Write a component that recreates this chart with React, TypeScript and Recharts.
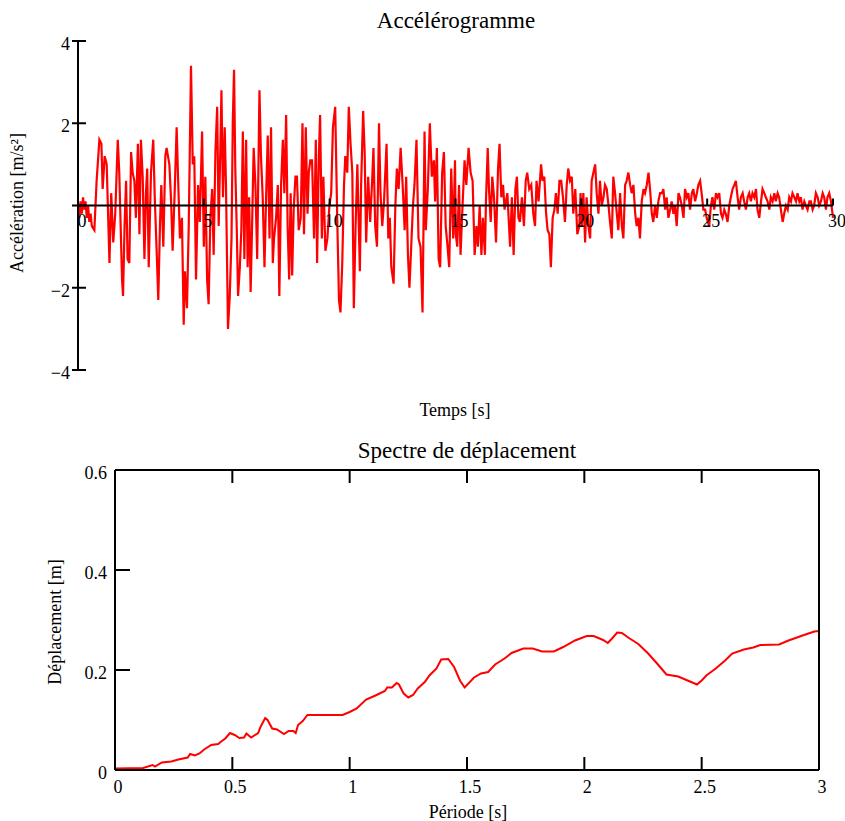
import React from 'react'
import { LineChart, Line, XAxis, YAxis, ReferenceLine } from 'recharts'

const FONT = '"Liberation Serif", "Times New Roman", serif'
const RED = '#ff0000'

// accélérogramme, [temps (s), accélération (m/s²)]
const accel0to5: [number, number][] = [
	[0, -0.1], [0.05, -0.3], [0.1, 0.1], [0.15, -0.2], [0.2, 0.2], [0.25, -0.1], [0.3, 0.1], [0.35, -0.3],
	[0.4, 0], [0.45, -0.4], [0.5, -0.2], [0.55, -0.5], [0.65, -0.6], [0.74, 0.6], [0.85, 1.6], [0.93, 1.5],
	[0.98, 0.4], [1.06, 1.2], [1.14, 1.0], [1.25, -1.4], [1.32, 0.3], [1.4, -0.9], [1.48, -0.2], [1.58, 1.6],
	[1.64, 0.8], [1.75, -1.8], [1.79, -2.2], [1.85, -0.5], [1.91, 0.6], [1.97, -1.3], [2.04, -1.4], [2.11, 1.3],
	[2.17, 0.8], [2.24, 0.6], [2.3, -0.3], [2.38, 1.5], [2.44, -0.7], [2.5, 1.6], [2.57, 0.7], [2.64, -1.3],
	[2.7, 0.3], [2.75, 0.9], [2.81, -1.5], [2.9, 0.8], [2.99, 1.6], [3.05, 0.2], [3.13, -1.2], [3.19, -2.3],
	[3.26, -0.4], [3.31, 0.5], [3.39, -1.0], [3.47, 1.2], [3.52, 1.4], [3.63, 1.0], [3.7, 0.1], [3.76, -1.1],
	[3.84, 0.3], [3.92, 1.9], [3.97, 0.8], [4.05, -0.8], [4.13, -0.3], [4.2, -2.9], [4.25, -1.6], [4.33, -2.5],
	[4.4, -0.5], [4.49, 3.4], [4.56, 1.0], [4.62, 1.2], [4.69, -1.8], [4.77, 0.5], [4.84, -0.4], [4.93, 1.8],
]
const accel5to10: [number, number][] = [
	[5.0, -1.0], [5.06, 0.7], [5.13, -1.8], [5.19, -2.4], [5.26, -0.3], [5.33, 0.4], [5.39, -1.2], [5.46, 1.3],
	[5.53, 2.4], [5.59, -0.5], [5.66, 1.5], [5.7, 2.8], [5.76, 0.2], [5.83, 1.9], [5.88, 0.5], [5.96, -3.0],
	[6.03, -2.2], [6.1, -0.8], [6.15, 2.0], [6.2, 3.3], [6.25, 0.9], [6.31, -0.6], [6.36, -2.2], [6.43, -1.5],
	[6.49, -0.6], [6.55, 1.8], [6.61, -1.3], [6.68, 1.6], [6.74, -1.5], [6.8, 0.2], [6.86, -2.1], [6.92, -0.4],
	[6.98, 1.4], [7.05, 0.5], [7.12, -1.3], [7.21, 2.8], [7.27, 1.2], [7.34, 0.2], [7.41, -1.5], [7.47, 0.1],
	[7.54, 1.7], [7.61, -0.8], [7.67, 1.9], [7.74, -1.4], [7.79, -0.8], [7.87, -0.3], [7.94, 0.5], [8.0, -2.2],
	[8.07, 0.5], [8.14, 1.6], [8.2, 0.3], [8.27, 2.2], [8.33, -0.5], [8.39, -1.8], [8.45, 0.3], [8.51, -1.7],
	[8.57, -0.1], [8.64, 0.7], [8.7, 0.7], [8.77, -0.6], [8.85, -0.3], [8.92, 2.0], [8.98, -0.7], [9.05, 1.9],
	[9.12, -0.2], [9.17, 0.8], [9.23, 1.1], [9.3, 1.1], [9.38, -0.8], [9.45, 1.6], [9.5, -1.4], [9.57, 1.2],
	[9.62, 2.2], [9.69, -0.8], [9.75, 0.7], [9.83, -1.1], [9.91, -0.8], [9.99, 0],
]
const accel10to15: [number, number][] = [
	[10.06, 0.3], [10.13, 1.9], [10.22, 2.4], [10.3, -0.3], [10.37, -2.3], [10.43, -2.6], [10.5, -1.4], [10.57, 0.5],
	[10.62, 1.2], [10.7, 0.8], [10.76, 2.4], [10.83, 1.5], [10.9, 0.8], [10.96, -2.5], [11.03, -0.5], [11.1, 1.0],
	[11.15, -0.3], [11.2, -1.6], [11.25, 0.5], [11.33, 2.3], [11.39, 1.3], [11.45, -0.9], [11.53, 0.7], [11.61, -0.4],
	[11.68, 0.5], [11.74, 1.4], [11.81, -0.5], [11.88, -1.0], [11.96, 2.0], [12.02, 0.3], [12.09, -0.5], [12.16, 0.1],
	[12.26, 1.5], [12.33, -0.8], [12.39, -0.3], [12.45, -1.5], [12.54, -1.9], [12.61, 0], [12.67, 0.9], [12.74, 0.4],
	[12.82, 1.4], [12.9, 0.5], [12.98, -0.6], [13.04, 0.7], [13.11, -1.2], [13.17, -2.0], [13.24, -1.0], [13.31, 0],
	[13.37, 0.5], [13.45, 1.6], [13.53, -0.8], [13.61, -1.0], [13.69, -2.6], [13.77, 1.8], [13.82, -0.6], [13.9, 0.4],
	[13.98, 2.0], [14.06, 0.7], [14.14, 1.1], [14.19, 0.1], [14.26, 1.4], [14.33, -1.3], [14.39, -1.5], [14.47, 0.8],
	[14.54, 1.3], [14.61, -0.5], [14.67, -0.9], [14.75, -1.5], [14.83, 0.9], [14.91, -0.8], [14.98, 1.1],
]
const accel15to20: [number, number][] = [
	[15.01, -0.7], [15.07, -1.0], [15.14, 0.5], [15.2, -1.2], [15.28, 0], [15.36, 1.1], [15.43, 0.5], [15.52, 1.4],
	[15.6, 0.8], [15.68, 0.6], [15.76, -1.2], [15.83, -0.5], [15.89, -1.0], [15.96, 0], [16.03, -1.2], [16.09, -0.3],
	[16.17, -1.2], [16.21, 0.1], [16.28, 1.4], [16.33, 0.4], [16.4, -0.4], [16.46, 0.7], [16.53, 0.2], [16.61, -0.9],
	[16.69, 0.9], [16.75, 1.5], [16.82, 0.2], [16.89, 0.5], [16.95, -0.1], [17.06, 0.3], [17.17, -1.0], [17.24, 0.2],
	[17.31, -1.2], [17.38, 0.4], [17.44, 0.7], [17.5, -0.3], [17.56, -0.4], [17.64, 0.2], [17.72, -0.5], [17.79, 0.6],
	[17.85, 0.8], [17.93, 0.4], [18.01, 0.5], [18.09, -0.2], [18.16, -0.5], [18.22, 0.6], [18.3, 0.1], [18.4, 1.0],
	[18.46, 0.6], [18.53, 0.7], [18.6, -0.2], [18.66, -0.6], [18.73, -0.7], [18.79, -1.5], [18.86, -0.3], [18.93, -0.1],
	[18.99, 0.3], [19.06, -0.2], [19.13, 0.6], [19.2, 0.6], [19.27, 0.2], [19.35, -0.4], [19.42, 0.5], [19.48, 0.9],
	[19.55, 0.6], [19.62, 0.7], [19.68, -0.2], [19.76, 0.4], [19.84, -0.7], [19.92, -0.5],
]
const accel20to25: [number, number][] = [
	[19.97, 0.3], [20.02, -0.5], [20.08, 0.3], [20.15, -0.9], [20.21, 0.2], [20.28, -0.5], [20.35, -0.8], [20.41, 0.6],
	[20.48, 0.8], [20.55, 1.0], [20.61, 0.3], [20.68, -0.2], [20.74, 0.6], [20.81, 0], [20.88, 0.2], [20.94, 0.5],
	[21.01, 0.4], [21.08, 0], [21.14, -0.4], [21.21, -0.8], [21.27, 0.7], [21.34, 0.3], [21.41, -0.2], [21.47, -0.6],
	[21.54, 0.3], [21.61, -0.5], [21.67, -0.8], [21.74, 0.5], [21.8, 0.6], [21.87, 0.8], [21.94, 0.5], [22.0, 0.3],
	[22.07, 0.5], [22.14, -0.2], [22.2, -0.5], [22.27, -0.3], [22.33, -0.8], [22.4, 0.1], [22.47, 0.4], [22.53, 0.3],
	[22.6, 0.5], [22.67, 0.8], [22.73, 0.4], [22.8, -0.2], [22.86, -0.4], [22.93, 0], [23.0, -0.3], [23.06, 0.1],
	[23.13, 0.3], [23.2, 0.3], [23.26, 0.4], [23.33, -0.1], [23.39, 0.2], [23.46, -0.3], [23.53, -0.1], [23.59, 0.1],
	[23.66, -0.2], [23.72, 0], [23.79, -0.5], [23.86, 0.3], [23.92, 0.2], [23.99, 0], [24.06, -0.3], [24.12, 0.4],
	[24.19, 0.2], [24.25, 0.3], [24.32, -0.1], [24.39, 0.3], [24.45, 0.4], [24.52, 0.1], [24.59, 0.3], [24.65, 0.5],
	[24.72, 0.6], [24.78, 0.3], [24.85, -0.1], [24.92, -0.1], [24.98, -0.3],
]
const accel25to30: [number, number][] = [
	[25.08, -0.5], [25.15, 0], [25.21, 0.2], [25.28, -0.1], [25.35, 0.3], [25.41, 0.2], [25.48, 0.3], [25.55, -0.2],
	[25.61, -0.3], [25.68, -0.1], [25.74, -0.2], [25.81, -0.4], [25.88, 0], [25.94, 0.2], [26.01, 0.4], [26.08, 0.5],
	[26.14, 0.6], [26.21, 0.2], [26.27, -0.1], [26.34, 0.2], [26.41, 0.3], [26.47, 0.1], [26.54, -0.1], [26.61, 0.2],
	[26.67, 0.3], [26.74, 0.1], [26.8, 0.3], [26.87, 0.2], [26.94, 0.4], [27.0, -0.1], [27.07, -0.3], [27.14, 0.1],
	[27.2, 0.4], [27.27, 0.3], [27.33, 0.2], [27.4, 0.1], [27.47, -0.1], [27.53, 0.2], [27.6, 0.1], [27.67, 0.3],
	[27.73, 0.1], [27.8, 0.3], [27.86, 0.2], [27.93, -0.1], [28.0, -0.4], [28.06, -0.2], [28.13, 0], [28.2, -0.1],
	[28.26, 0.2], [28.33, 0.1], [28.39, 0.3], [28.46, 0.2], [28.53, 0.1], [28.59, 0.3], [28.66, 0.1], [28.72, 0.2],
	[28.79, -0.1], [28.86, 0.1], [28.92, 0], [28.99, -0.1], [29.06, 0.1], [29.12, 0.1], [29.19, -0.1], [29.25, 0],
	[29.32, 0.3], [29.39, 0.2], [29.45, 0], [29.52, 0.1], [29.59, 0.3], [29.65, 0.2], [29.72, -0.1], [29.78, 0.2],
	[29.85, 0.3], [29.92, 0.1], [29.98, -0.2], [30.0, -0.3],
]
const timeTicks = [0, 5, 10, 15, 20, 25, 30]
const accelTicks = [-4, -2, 0, 2, 4]

// spectre de déplacement
const period = [
	0, 0.12, 0.16, 0.17, 0.2, 0.24, 0.27, 0.31, 0.32, 0.34, 0.36, 0.38, 0.41, 0.44, 0.45, 0.47, 0.49, 0.51, 0.53,
	0.55, 0.56, 0.58, 0.61, 0.62, 0.64, 0.65, 0.67, 0.69, 0.72, 0.74, 0.76, 0.77, 0.78, 0.8, 0.82, 0.97, 1.0, 1.03,
	1.07, 1.11, 1.15, 1.16, 1.18, 1.2, 1.21, 1.23, 1.25, 1.27, 1.29, 1.32, 1.34, 1.37, 1.39, 1.42, 1.445, 1.47, 1.49,
	1.53, 1.56, 1.59, 1.62, 1.66, 1.69, 1.74, 1.78, 1.82, 1.87, 1.91, 1.96, 2.01, 2.04, 2.08, 2.1, 2.12, 2.14, 2.16,
	2.19, 2.23, 2.27, 2.31, 2.35, 2.4, 2.44, 2.48, 2.5, 2.52, 2.56, 2.6, 2.63, 2.68, 2.72, 2.75, 2.83, 2.87, 2.93,
	2.98, 3.0,
]
const displacement = [
	0.003, 0.004, 0.01, 0.007, 0.015, 0.017, 0.021, 0.025, 0.032, 0.029, 0.033, 0.041, 0.05, 0.052, 0.056, 0.063,
	0.074, 0.07, 0.064, 0.065, 0.073, 0.065, 0.074, 0.086, 0.104, 0.1, 0.083, 0.081, 0.072, 0.078, 0.078, 0.074,
	0.09, 0.098, 0.11, 0.11, 0.116, 0.123, 0.141, 0.149, 0.158, 0.165, 0.165, 0.174, 0.171, 0.153, 0.145, 0.15,
	0.163, 0.176, 0.189, 0.203, 0.221, 0.222, 0.206, 0.179, 0.165, 0.185, 0.193, 0.196, 0.211, 0.223, 0.234, 0.243,
	0.243, 0.237, 0.237, 0.246, 0.259, 0.268, 0.268, 0.26, 0.254, 0.264, 0.275, 0.274, 0.264, 0.252, 0.234, 0.213,
	0.191, 0.187, 0.179, 0.171, 0.179, 0.189, 0.203, 0.219, 0.233, 0.241, 0.245, 0.25, 0.251, 0.259, 0.269, 0.277,
	0.278,
]
const periodTicks = [0, 0.5, 1, 1.5, 2, 2.5, 3]
const dispTicks = [0, 0.2, 0.4, 0.6]

const accelData = [...accel0to5, ...accel5to10, ...accel10to15, ...accel15to20, ...accel20to25, ...accel25to30].map(
	([t, a]) => ({ t, a }),
)
const spectrumData = period.map((p, i) => ({ p, d: displacement[i] }))

const W = 837
const TOP_H = 420
// plot area: x 70..825, y 33..362 (svg coords)
const TOP_MARGIN = { top: 33, right: 12, bottom: 57, left: 69 }
const ZERO_Y = 33 + (362 - 33) / 2
const BOT_H = 391
// plot area: x 107..811, y 40..340
const BOT_MARGIN = { top: 39, right: 25, bottom: 50, left: 106 }

const fmtSigned = (v: number) => (v < 0 ? '\u2212' + Math.abs(v) : String(v))

const txt = { fontSize: 18, fontFamily: FONT, fill: '#000' }

const TimeTick = (props: any) => {
	const { x, payload } = props
	return (
		<g>
			<line x1={x} x2={x} y1={ZERO_Y} y2={ZERO_Y - 7} stroke="#000" strokeWidth={2} />
			<text x={x + 4} y={ZERO_Y + 21} textAnchor="middle" {...txt}>
				{payload.value}
			</text>
		</g>
	)
}

const AccelTick = (props: any) => {
	const { x, y, payload } = props
	return (
		<g>
			<line x1={x - 6} x2={x + 8} y1={y} y2={y} stroke="#000" strokeWidth={2} />
			{payload.value !== 0 && (
				<text x={x - 8} y={y + 9} textAnchor="end" {...txt}>
					{fmtSigned(payload.value)}
				</text>
			)}
		</g>
	)
}

const PeriodTick = (props: any) => {
	const { x, y, payload } = props
	return (
		<g>
			<line x1={x} x2={x} y1={y} y2={y - 13} stroke="#000" strokeWidth={2} />
			<text x={x + 3} y={y + 23} textAnchor="middle" {...txt}>
				{payload.value}
			</text>
		</g>
	)
}

const PeriodTopTick = (props: any) => {
	const { x, y } = props
	return <line x1={x} x2={x} y1={y} y2={y + 13} stroke="#000" strokeWidth={2} />
}

const DispTick = (props: any) => {
	const { x, y, payload } = props
	return (
		<g>
			<line x1={x} x2={x + 15} y1={y} y2={y} stroke="#000" strokeWidth={2} />
			<text x={x - 8} y={y + 9} textAnchor="end" {...txt}>
				{payload.value}
			</text>
		</g>
	)
}

const DispRightTick = (props: any) => {
	const { x, y } = props
	return <line x1={x} x2={x - 15} y1={y} y2={y} stroke="#000" strokeWidth={2} />
}

const Text = ({ x, y, size = 18, rotate = false, children }: any) => (
	<div
		style={{
			position: 'absolute',
			left: x,
			top: y,
			transform: `translate(-50%, -50%)${rotate ? ' rotate(-90deg)' : ''}`,
			whiteSpace: 'nowrap',
			fontSize: size,
			lineHeight: 1,
			fontFamily: FONT,
			color: '#000',
		}}
	>
		{children}
	</div>
)

const axisLine = { stroke: '#000', strokeWidth: 2 }
const noTickLine = { tickLine: false, tickSize: 0, tickMargin: 0, interval: 0 as const }

export default function App() {
	return (
		<div style={{ width: 845, height: 821, padding: 8, boxSizing: 'border-box', background: '#fff' }}>
			<style>{'body { margin: 0; }'}</style>
			<div style={{ position: 'relative', width: W, height: 805 }}>
				<div style={{ position: 'absolute', left: 0, top: 0 }}>
					<LineChart width={W} height={TOP_H} data={accelData} margin={TOP_MARGIN}>
						<XAxis
							dataKey="t"
							type="number"
							domain={[0, 30]}
							ticks={timeTicks}
							height={1}
							axisLine={false}
							{...noTickLine}
							tick={<TimeTick />}
						/>
						<YAxis
							type="number"
							domain={[-4, 4]}
							ticks={accelTicks}
							width={1}
							axisLine={axisLine}
							{...noTickLine}
							tick={<AccelTick />}
						/>
						<Line
							dataKey="a"
							type="linear"
							stroke={RED}
							strokeWidth={2.2}
							dot={false}
							isAnimationActive={false}
						/>
						<ReferenceLine y={0} stroke="#000" strokeWidth={2} />
					</LineChart>
				</div>
				<Text x={448} y={12} size={23}>
					Accélérogramme
				</Text>
				<Text x={447} y={402}>
					Temps [s]
				</Text>
				<Text x={9} y={195} rotate>
					Accélération [m/s²]
				</Text>

				<div style={{ position: 'absolute', left: 0, top: 422 }}>
					<LineChart width={W} height={BOT_H} data={spectrumData} margin={BOT_MARGIN}>
						<XAxis
							dataKey="p"
							type="number"
							domain={[0, 3]}
							ticks={periodTicks}
							height={1}
							axisLine={axisLine}
							{...noTickLine}
							tick={<PeriodTick />}
						/>
						<XAxis
							xAxisId="top"
							orientation="top"
							dataKey="p"
							type="number"
							domain={[0, 3]}
							ticks={periodTicks}
							height={1}
							axisLine={axisLine}
							{...noTickLine}
							tick={<PeriodTopTick />}
						/>
						<YAxis
							type="number"
							domain={[0, 0.6]}
							ticks={dispTicks}
							width={1}
							axisLine={axisLine}
							{...noTickLine}
							tick={<DispTick />}
						/>
						<YAxis
							yAxisId="right"
							orientation="right"
							type="number"
							domain={[0, 0.6]}
							ticks={dispTicks}
							width={1}
							axisLine={axisLine}
							{...noTickLine}
							tick={<DispRightTick />}
						/>
						<Line
							dataKey="d"
							type="linear"
							stroke={RED}
							strokeWidth={2}
							dot={false}
							isAnimationActive={false}
						/>
					</LineChart>
				</div>
				<Text x={459} y={442} size={23}>
					Spectre de déplacement
				</Text>
				<Text x={460} y={804}>
					Période [s]
				</Text>
				<Text x={47} y={614} rotate>
					Déplacement [m]
				</Text>
			</div>
		</div>
	)
}
